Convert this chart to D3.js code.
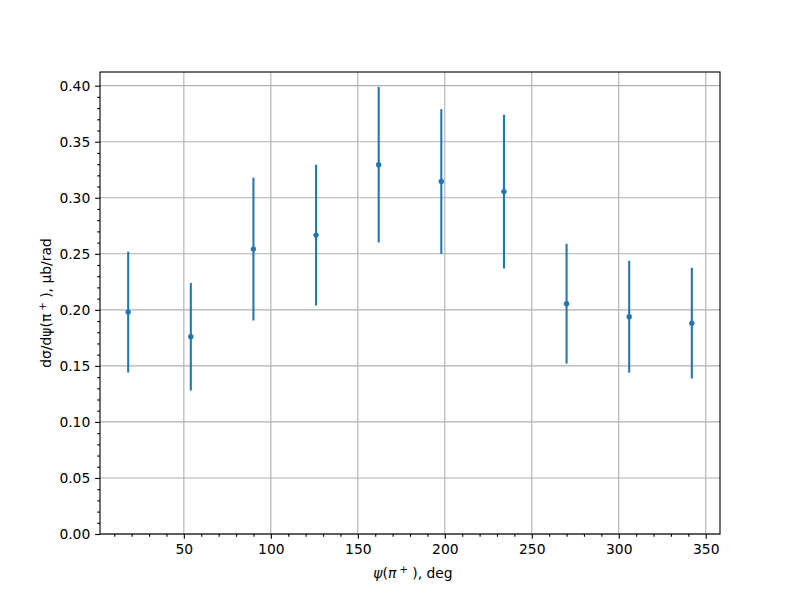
<!DOCTYPE html>
<html>
<head>
<meta charset="utf-8">
<script src="https://cdn.jsdelivr.net/npm/d3@7"></script>
<style>
  body { margin: 0; background: #fff; }
  text { font-family: "DejaVu Sans", sans-serif; }
</style>
</head>
<body>
<svg id="chart" width="800" height="600"></svg>
<script>
const psi = [18, 54, 90, 126, 162, 198, 234, 270, 306, 342];
const dsigma = [0.198, 0.176, 0.2542, 0.2667, 0.3295, 0.3145, 0.3055, 0.2055, 0.1939, 0.1881];
const errors = [0.0539, 0.0480, 0.0637, 0.0628, 0.0694, 0.0646, 0.0686, 0.0534, 0.0499, 0.0494];
const xTicks = [50, 100, 150, 200, 250, 300, 350];
const yTicks = [0, 0.05, 0.10, 0.15, 0.20, 0.25, 0.30, 0.35, 0.40];

const svg = d3.select("#chart");
const L = 100, T = 72, R = 720, B = 534;
const fs = 13.89;
const color = "#1f77b4";

const x = d3.scaleLinear().domain([1.8, 358.2]).range([L, R]);
const y = d3.scaleLinear().domain([0, 0.4122]).range([B, T]);

svg.append("rect").attr("x", 0).attr("y", 0).attr("width", 800).attr("height", 600).attr("fill", "#fff");

// grid
const grid = svg.append("g");
grid.selectAll(".gx").data(xTicks).enter().append("line")
  .attr("x1", d => x(d)).attr("x2", d => x(d)).attr("y1", T).attr("y2", B)
  .attr("stroke", "#b0b0b0").attr("stroke-width", 1.11);
grid.selectAll(".gy").data(yTicks).enter().append("line")
  .attr("x1", L).attr("x2", R).attr("y1", d => y(d)).attr("y2", d => y(d))
  .attr("stroke", "#b0b0b0").attr("stroke-width", 1.11);

// axes
const xAxis = d3.axisBottom(x).tickValues(xTicks).tickFormat(d3.format("d")).tickSizeInner(4.86).tickSizeOuter(0).tickPadding(4.86);
const xMinor = d3.axisBottom(x).tickValues(d3.range(10, 360, 10).filter(v => v % 50 !== 0)).tickFormat("").tickSizeInner(2.78).tickSizeOuter(0);
const yAxis = d3.axisLeft(y).tickValues(yTicks).tickFormat(d3.format(".2f")).tickSizeInner(4.86).tickSizeOuter(0).tickPadding(4.86);
const yMinor = d3.axisLeft(y).tickValues(d3.range(0, 0.41, 0.01).filter((v, i) => i % 5 !== 0)).tickFormat("").tickSizeInner(2.78).tickSizeOuter(0);

function style(g) {
  g.select(".domain").remove();
  g.selectAll("line").attr("stroke", "#000").attr("stroke-width", 1.11);
  g.selectAll("text").attr("font-size", fs).attr("fill", "#000").attr("font-family", "DejaVu Sans");
}
svg.append("g").attr("transform", `translate(0,${B})`).call(xAxis).call(style);
svg.append("g").attr("transform", `translate(0,${B})`).call(xMinor).call(style);
svg.append("g").attr("transform", `translate(${L},0)`).call(yAxis).call(style);
svg.append("g").attr("transform", `translate(${L},0)`).call(yMinor).call(style);

// error bars
const pts = psi.map((p, i) => ({p, v: dsigma[i], e: errors[i]}));
svg.append("g").selectAll("line").data(pts).enter().append("line")
  .attr("x1", d => x(d.p)).attr("x2", d => x(d.p))
  .attr("y1", d => y(d.v - d.e)).attr("y2", d => y(d.v + d.e))
  .attr("stroke", color).attr("stroke-width", 2.08);
svg.append("g").selectAll("circle").data(pts).enter().append("circle")
  .attr("cx", d => x(d.p)).attr("cy", d => y(d.v)).attr("r", 2.7)
  .attr("fill", color);

// spines
svg.append("rect").attr("x", L).attr("y", T).attr("width", R - L).attr("height", B - T)
  .attr("fill", "none").attr("stroke", "#000").attr("stroke-width", 1.11);

// x label
const xl = svg.append("text").attr("x", (L + R) / 2 + 3).attr("y", 578).attr("text-anchor", "middle").attr("font-size", fs);
xl.append("tspan").attr("font-style", "italic").text("ψ");
xl.append("tspan").text("(");
xl.append("tspan").attr("font-style", "italic").text("π");
xl.append("tspan").attr("dy", -5).attr("font-size", 10).text(" +");
xl.append("tspan").attr("dy", 5).text(" ), deg");

// y label
const yl = svg.append("text").attr("transform", `translate(51,${(T + B) / 2}) rotate(-90)`).attr("text-anchor", "middle").attr("font-size", fs);
yl.append("tspan").text("dσ/dψ(π");
yl.append("tspan").attr("dy", -5).attr("font-size", 10).text(" +");
yl.append("tspan").attr("dy", 5).text(" ), μb/rad");
</script>
</body>
</html>
